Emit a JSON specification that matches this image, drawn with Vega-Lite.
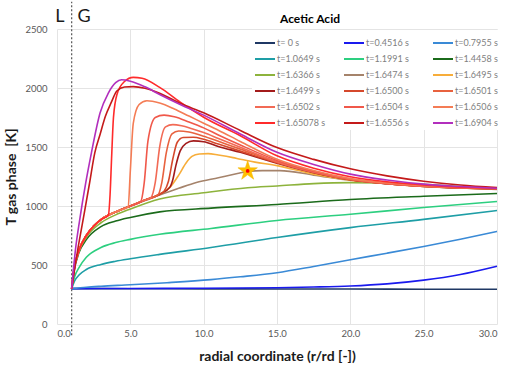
{
  "$schema": "https://vega.github.io/schema/vega-lite/v6.json",
  "width": 440,
  "height": 295,
  "autosize": {"type": "none"},
  "padding": {"left": 57, "top": 29, "right": 9, "bottom": 47},
  "title": {"text": "Acetic Acid", "fontSize": 12, "fontWeight": "bold", "font": "Lato", "color": "#000000", "dx": 33, "offset": -25},
  "config": {
    "view": {"stroke": null},
    "font": "Lato",
    "axis": {"gridColor": "#e4e4e4", "gridWidth": 1, "domain": false, "ticks": false, "labelFontSize": 9.5, "labelColor": "#595959", "titleFontSize": 14, "titleFontWeight": "bold", "titleColor": "#1a1a1a", "labelFont": "Lato", "titleFont": "Lato"}
  },
  "encoding": {
    "x": {"field": "r", "type": "quantitative", "scale": {"domain": [0, 30], "nice": false, "zero": false}, "axis": {"values": [0, 5, 10, 15, 20, 25, 30], "format": ".1f", "title": "radial coordinate (r/rd [-])", "labelPadding": 4, "titlePadding": 12}},
    "y": {"field": "T", "type": "quantitative", "scale": {"domain": [0, 2500], "nice": false}, "axis": {"values": [0, 500, 1000, 1500, 2000, 2500], "format": "d", "title": "T gas phase \u00a0[K]", "labelPadding": 10, "titlePadding": 6}}
  },
  "layer": [
    {
      "data": {"values": [{"r": 1, "T": -95, "T2": 2730}]},
      "mark": {"type": "rule", "color": "#555555", "strokeDash": [2, 2], "strokeWidth": 1.2},
      "encoding": {"y2": {"field": "T2"}}
    },
    {
      "data": {"values": [
        {"s":"t= 0 s","r":1,"T":300},{"s":"t= 0 s","r":5,"T":299},{"s":"t= 0 s","r":10,"T":298},{"s":"t= 0 s","r":15,"T":297},{"s":"t= 0 s","r":20,"T":296},{"s":"t= 0 s","r":25,"T":295},{"s":"t= 0 s","r":30,"T":295},
        {"s":"t=0.4516 s","r":1,"T":300},{"s":"t=0.4516 s","r":5,"T":301},{"s":"t=0.4516 s","r":10,"T":303},{"s":"t=0.4516 s","r":15,"T":307},{"s":"t=0.4516 s","r":17.5,"T":313},{"s":"t=0.4516 s","r":20,"T":322},{"s":"t=0.4516 s","r":22.5,"T":340},{"s":"t=0.4516 s","r":25,"T":372},{"s":"t=0.4516 s","r":27.5,"T":420},{"s":"t=0.4516 s","r":30,"T":490},
        {"s":"t=0.7955 s","r":1,"T":300},{"s":"t=0.7955 s","r":2,"T":312},{"s":"t=0.7955 s","r":3,"T":320},{"s":"t=0.7955 s","r":5,"T":332},{"s":"t=0.7955 s","r":7.5,"T":350},{"s":"t=0.7955 s","r":10.5,"T":376},{"s":"t=0.7955 s","r":12.5,"T":400},{"s":"t=0.7955 s","r":15,"T":435},{"s":"t=0.7955 s","r":17.5,"T":488},{"s":"t=0.7955 s","r":20,"T":545},{"s":"t=0.7955 s","r":22.5,"T":600},{"s":"t=0.7955 s","r":25,"T":657},{"s":"t=0.7955 s","r":27.5,"T":718},{"s":"t=0.7955 s","r":30,"T":785},
        {"s":"t=1.0649 s","r":1,"T":300},{"s":"t=1.0649 s","r":1.2,"T":365},{"s":"t=1.0649 s","r":1.5,"T":415},{"s":"t=1.0649 s","r":2,"T":462},{"s":"t=1.0649 s","r":3,"T":505},{"s":"t=1.0649 s","r":4,"T":532},{"s":"t=1.0649 s","r":5,"T":553},{"s":"t=1.0649 s","r":7,"T":590},{"s":"t=1.0649 s","r":10.5,"T":648},{"s":"t=1.0649 s","r":15,"T":733},{"s":"t=1.0649 s","r":20,"T":817},{"s":"t=1.0649 s","r":25,"T":887},{"s":"t=1.0649 s","r":30,"T":962},
        {"s":"t=1.1991 s","r":1,"T":300},{"s":"t=1.1991 s","r":1.2,"T":400},{"s":"t=1.1991 s","r":1.5,"T":478},{"s":"t=1.1991 s","r":2,"T":565},{"s":"t=1.1991 s","r":3,"T":648},{"s":"t=1.1991 s","r":4,"T":690},{"s":"t=1.1991 s","r":5,"T":717},{"s":"t=1.1991 s","r":7,"T":760},{"s":"t=1.1991 s","r":10.5,"T":810},{"s":"t=1.1991 s","r":15,"T":877},{"s":"t=1.1991 s","r":20,"T":930},{"s":"t=1.1991 s","r":25,"T":987},{"s":"t=1.1991 s","r":30,"T":1038},
        {"s":"t=1.4458 s","r":1,"T":300},{"s":"t=1.4458 s","r":1.15,"T":440},{"s":"t=1.4458 s","r":1.5,"T":605},{"s":"t=1.4458 s","r":2,"T":715},{"s":"t=1.4458 s","r":3,"T":825},{"s":"t=1.4458 s","r":4,"T":872},{"s":"t=1.4458 s","r":5,"T":903},{"s":"t=1.4458 s","r":7,"T":950},{"s":"t=1.4458 s","r":10.5,"T":982},{"s":"t=1.4458 s","r":15,"T":1013},{"s":"t=1.4458 s","r":20,"T":1055},{"s":"t=1.4458 s","r":25,"T":1082},{"s":"t=1.4458 s","r":30,"T":1106},
        {"s":"t=1.6366 s","r":1,"T":300},{"s":"t=1.6366 s","r":1.15,"T":450},{"s":"t=1.6366 s","r":1.5,"T":615},{"s":"t=1.6366 s","r":2,"T":735},{"s":"t=1.6366 s","r":3,"T":858},{"s":"t=1.6366 s","r":4,"T":925},{"s":"t=1.6366 s","r":5,"T":975},{"s":"t=1.6366 s","r":7,"T":1060},{"s":"t=1.6366 s","r":10,"T":1112},{"s":"t=1.6366 s","r":13,"T":1155},{"s":"t=1.6366 s","r":15,"T":1170},{"s":"t=1.6366 s","r":17.5,"T":1190},{"s":"t=1.6366 s","r":20,"T":1198},{"s":"t=1.6366 s","r":22.5,"T":1195},{"s":"t=1.6366 s","r":25,"T":1183},{"s":"t=1.6366 s","r":27.5,"T":1165},{"s":"t=1.6366 s","r":30,"T":1150},
        {"s":"t=1.6474 s","r":1,"T":300},{"s":"t=1.6474 s","r":1.15,"T":455},{"s":"t=1.6474 s","r":1.5,"T":625},{"s":"t=1.6474 s","r":2,"T":750},{"s":"t=1.6474 s","r":2.5,"T":830},{"s":"t=1.6474 s","r":3,"T":885},{"s":"t=1.6474 s","r":3.6,"T":928},{"s":"t=1.6474 s","r":4.2,"T":960},{"s":"t=1.6474 s","r":5,"T":1000},{"s":"t=1.6474 s","r":6,"T":1046},{"s":"t=1.6474 s","r":7,"T":1093},{"s":"t=1.6474 s","r":8.3,"T":1150},{"s":"t=1.6474 s","r":9.5,"T":1200},{"s":"t=1.6474 s","r":11,"T":1240},{"s":"t=1.6474 s","r":12.3,"T":1275},{"s":"t=1.6474 s","r":13,"T":1293},{"s":"t=1.6474 s","r":14,"T":1300},{"s":"t=1.6474 s","r":15.2,"T":1300},{"s":"t=1.6474 s","r":17.5,"T":1262},{"s":"t=1.6474 s","r":20,"T":1218},{"s":"t=1.6474 s","r":22.5,"T":1188},{"s":"t=1.6474 s","r":25,"T":1166},{"s":"t=1.6474 s","r":27.5,"T":1152},{"s":"t=1.6474 s","r":30,"T":1140},
        {"s":"t=1.6495 s","r":1,"T":300},{"s":"t=1.6495 s","r":1.15,"T":455},{"s":"t=1.6495 s","r":1.5,"T":625},{"s":"t=1.6495 s","r":2,"T":750},{"s":"t=1.6495 s","r":2.5,"T":830},{"s":"t=1.6495 s","r":3,"T":885},{"s":"t=1.6495 s","r":3.6,"T":928},{"s":"t=1.6495 s","r":4.2,"T":960},{"s":"t=1.6495 s","r":5,"T":1000},{"s":"t=1.6495 s","r":6,"T":1050},{"s":"t=1.6495 s","r":7,"T":1100},{"s":"t=1.6495 s","r":7.7,"T":1158},{"s":"t=1.6495 s","r":8.3,"T":1262},{"s":"t=1.6495 s","r":8.8,"T":1365},{"s":"t=1.6495 s","r":9.2,"T":1420},{"s":"t=1.6495 s","r":9.7,"T":1441},{"s":"t=1.6495 s","r":10.3,"T":1444},{"s":"t=1.6495 s","r":11,"T":1432},{"s":"t=1.6495 s","r":12,"T":1410},{"s":"t=1.6495 s","r":12.5,"T":1396},{"s":"t=1.6495 s","r":13.5,"T":1372},{"s":"t=1.6495 s","r":15,"T":1342},{"s":"t=1.6495 s","r":17.5,"T":1270},{"s":"t=1.6495 s","r":20,"T":1219},{"s":"t=1.6495 s","r":22.5,"T":1189},{"s":"t=1.6495 s","r":25,"T":1165},{"s":"t=1.6495 s","r":27.5,"T":1152},{"s":"t=1.6495 s","r":30,"T":1143},
        {"s":"t=1.6499 s","r":1,"T":300},{"s":"t=1.6499 s","r":1.15,"T":455},{"s":"t=1.6499 s","r":1.5,"T":625},{"s":"t=1.6499 s","r":2,"T":750},{"s":"t=1.6499 s","r":2.5,"T":830},{"s":"t=1.6499 s","r":3,"T":885},{"s":"t=1.6499 s","r":3.6,"T":928},{"s":"t=1.6499 s","r":4.2,"T":960},{"s":"t=1.6499 s","r":5,"T":1000},{"s":"t=1.6499 s","r":6,"T":1050},{"s":"t=1.6499 s","r":7,"T":1100},{"s":"t=1.6499 s","r":7.7,"T":1160},{"s":"t=1.6499 s","r":7.9,"T":1225},{"s":"t=1.6499 s","r":8.1,"T":1340},{"s":"t=1.6499 s","r":8.4,"T":1467},{"s":"t=1.6499 s","r":8.8,"T":1530},{"s":"t=1.6499 s","r":9.3,"T":1552},{"s":"t=1.6499 s","r":10,"T":1545},{"s":"t=1.6499 s","r":11,"T":1505},{"s":"t=1.6499 s","r":12.5,"T":1455},{"s":"t=1.6499 s","r":15,"T":1362},{"s":"t=1.6499 s","r":17.5,"T":1282},{"s":"t=1.6499 s","r":20,"T":1222},{"s":"t=1.6499 s","r":22.5,"T":1188},{"s":"t=1.6499 s","r":25,"T":1166},{"s":"t=1.6499 s","r":27.5,"T":1153},{"s":"t=1.6499 s","r":30,"T":1145},
        {"s":"t=1.6500 s","r":1,"T":300},{"s":"t=1.6500 s","r":1.15,"T":455},{"s":"t=1.6500 s","r":1.5,"T":625},{"s":"t=1.6500 s","r":2,"T":750},{"s":"t=1.6500 s","r":2.5,"T":830},{"s":"t=1.6500 s","r":3,"T":885},{"s":"t=1.6500 s","r":3.6,"T":928},{"s":"t=1.6500 s","r":4.2,"T":960},{"s":"t=1.6500 s","r":5,"T":1000},{"s":"t=1.6500 s","r":6,"T":1050},{"s":"t=1.6500 s","r":7,"T":1100},{"s":"t=1.6500 s","r":7.3,"T":1125},{"s":"t=1.6500 s","r":7.6,"T":1210},{"s":"t=1.6500 s","r":7.9,"T":1400},{"s":"t=1.6500 s","r":8.2,"T":1540},{"s":"t=1.6500 s","r":8.6,"T":1580},{"s":"t=1.6500 s","r":9.3,"T":1582},{"s":"t=1.6500 s","r":10,"T":1565},{"s":"t=1.6500 s","r":11,"T":1525},{"s":"t=1.6500 s","r":12.5,"T":1465},{"s":"t=1.6500 s","r":15,"T":1366},{"s":"t=1.6500 s","r":17.5,"T":1284},{"s":"t=1.6500 s","r":20,"T":1223},{"s":"t=1.6500 s","r":22.5,"T":1189},{"s":"t=1.6500 s","r":25,"T":1167},{"s":"t=1.6500 s","r":27.5,"T":1154},{"s":"t=1.6500 s","r":30,"T":1146},
        {"s":"t=1.6501 s","r":1,"T":300},{"s":"t=1.6501 s","r":1.15,"T":455},{"s":"t=1.6501 s","r":1.5,"T":625},{"s":"t=1.6501 s","r":2,"T":750},{"s":"t=1.6501 s","r":2.5,"T":830},{"s":"t=1.6501 s","r":3,"T":885},{"s":"t=1.6501 s","r":3.6,"T":928},{"s":"t=1.6501 s","r":4.2,"T":960},{"s":"t=1.6501 s","r":5,"T":1000},{"s":"t=1.6501 s","r":6,"T":1050},{"s":"t=1.6501 s","r":6.9,"T":1097},{"s":"t=1.6501 s","r":7.15,"T":1200},{"s":"t=1.6501 s","r":7.45,"T":1450},{"s":"t=1.6501 s","r":7.84,"T":1612},{"s":"t=1.6501 s","r":8.3,"T":1636},{"s":"t=1.6501 s","r":9,"T":1627},{"s":"t=1.6501 s","r":10,"T":1592},{"s":"t=1.6501 s","r":11,"T":1548},{"s":"t=1.6501 s","r":12.5,"T":1482},{"s":"t=1.6501 s","r":15,"T":1371},{"s":"t=1.6501 s","r":17.5,"T":1286},{"s":"t=1.6501 s","r":20,"T":1224},{"s":"t=1.6501 s","r":22.5,"T":1190},{"s":"t=1.6501 s","r":25,"T":1167},{"s":"t=1.6501 s","r":27.5,"T":1154},{"s":"t=1.6501 s","r":30,"T":1147},
        {"s":"t=1.6502 s","r":1,"T":300},{"s":"t=1.6502 s","r":1.15,"T":455},{"s":"t=1.6502 s","r":1.5,"T":625},{"s":"t=1.6502 s","r":2,"T":750},{"s":"t=1.6502 s","r":2.5,"T":830},{"s":"t=1.6502 s","r":3,"T":885},{"s":"t=1.6502 s","r":3.6,"T":928},{"s":"t=1.6502 s","r":4.2,"T":960},{"s":"t=1.6502 s","r":5,"T":1000},{"s":"t=1.6502 s","r":6,"T":1050},{"s":"t=1.6502 s","r":6.4,"T":1070},{"s":"t=1.6502 s","r":6.7,"T":1200},{"s":"t=1.6502 s","r":7,"T":1500},{"s":"t=1.6502 s","r":7.4,"T":1670},{"s":"t=1.6502 s","r":7.9,"T":1690},{"s":"t=1.6502 s","r":8.5,"T":1680},{"s":"t=1.6502 s","r":9.2,"T":1655},{"s":"t=1.6502 s","r":10,"T":1622},{"s":"t=1.6502 s","r":11,"T":1572},{"s":"t=1.6502 s","r":12.5,"T":1497},{"s":"t=1.6502 s","r":15,"T":1376},{"s":"t=1.6502 s","r":17.5,"T":1288},{"s":"t=1.6502 s","r":20,"T":1226},{"s":"t=1.6502 s","r":22.5,"T":1191},{"s":"t=1.6502 s","r":25,"T":1168},{"s":"t=1.6502 s","r":27.5,"T":1155},{"s":"t=1.6502 s","r":30,"T":1148},
        {"s":"t=1.6504 s","r":1,"T":300},{"s":"t=1.6504 s","r":1.15,"T":455},{"s":"t=1.6504 s","r":1.5,"T":625},{"s":"t=1.6504 s","r":2,"T":750},{"s":"t=1.6504 s","r":2.5,"T":830},{"s":"t=1.6504 s","r":3,"T":885},{"s":"t=1.6504 s","r":3.6,"T":928},{"s":"t=1.6504 s","r":4.2,"T":960},{"s":"t=1.6504 s","r":5,"T":1000},{"s":"t=1.6504 s","r":5.7,"T":1035},{"s":"t=1.6504 s","r":5.95,"T":1200},{"s":"t=1.6504 s","r":6.2,"T":1550},{"s":"t=1.6504 s","r":6.7,"T":1750},{"s":"t=1.6504 s","r":7.3,"T":1770},{"s":"t=1.6504 s","r":8,"T":1757},{"s":"t=1.6504 s","r":9,"T":1712},{"s":"t=1.6504 s","r":10,"T":1662},{"s":"t=1.6504 s","r":11,"T":1602},{"s":"t=1.6504 s","r":12.5,"T":1517},{"s":"t=1.6504 s","r":15,"T":1386},{"s":"t=1.6504 s","r":17.5,"T":1292},{"s":"t=1.6504 s","r":20,"T":1228},{"s":"t=1.6504 s","r":22.5,"T":1192},{"s":"t=1.6504 s","r":25,"T":1169},{"s":"t=1.6504 s","r":27.5,"T":1156},{"s":"t=1.6504 s","r":30,"T":1148},
        {"s":"t=1.6506 s","r":1,"T":300},{"s":"t=1.6506 s","r":1.15,"T":455},{"s":"t=1.6506 s","r":1.5,"T":625},{"s":"t=1.6506 s","r":2,"T":750},{"s":"t=1.6506 s","r":2.5,"T":830},{"s":"t=1.6506 s","r":3,"T":885},{"s":"t=1.6506 s","r":3.6,"T":928},{"s":"t=1.6506 s","r":4.2,"T":960},{"s":"t=1.6506 s","r":4.85,"T":993},{"s":"t=1.6506 s","r":5,"T":1300},{"s":"t=1.6506 s","r":5.2,"T":1700},{"s":"t=1.6506 s","r":5.6,"T":1860},{"s":"t=1.6506 s","r":6.13,"T":1892},{"s":"t=1.6506 s","r":7,"T":1872},{"s":"t=1.6506 s","r":8,"T":1822},{"s":"t=1.6506 s","r":9,"T":1762},{"s":"t=1.6506 s","r":10,"T":1702},{"s":"t=1.6506 s","r":11,"T":1642},{"s":"t=1.6506 s","r":12.5,"T":1547},{"s":"t=1.6506 s","r":15,"T":1396},{"s":"t=1.6506 s","r":17.5,"T":1300},{"s":"t=1.6506 s","r":20,"T":1232},{"s":"t=1.6506 s","r":22.5,"T":1195},{"s":"t=1.6506 s","r":25,"T":1171},{"s":"t=1.6506 s","r":27.5,"T":1157},{"s":"t=1.6506 s","r":30,"T":1150},
        {"s":"t=1.65078 s","r":1,"T":300},{"s":"t=1.65078 s","r":1.15,"T":455},{"s":"t=1.65078 s","r":1.5,"T":625},{"s":"t=1.65078 s","r":2,"T":750},{"s":"t=1.65078 s","r":2.5,"T":830},{"s":"t=1.65078 s","r":3,"T":885},{"s":"t=1.65078 s","r":3.5,"T":922},{"s":"t=1.65078 s","r":3.62,"T":1100},{"s":"t=1.65078 s","r":3.72,"T":1400},{"s":"t=1.65078 s","r":3.85,"T":1750},{"s":"t=1.65078 s","r":4.1,"T":1950},{"s":"t=1.65078 s","r":4.6,"T":2055},{"s":"t=1.65078 s","r":5.2,"T":2090},{"s":"t=1.65078 s","r":5.8,"T":2082},{"s":"t=1.65078 s","r":7,"T":2005},{"s":"t=1.65078 s","r":8.4,"T":1880},{"s":"t=1.65078 s","r":10,"T":1752},{"s":"t=1.65078 s","r":12.5,"T":1595},{"s":"t=1.65078 s","r":15,"T":1425},{"s":"t=1.65078 s","r":17.5,"T":1320},{"s":"t=1.65078 s","r":20,"T":1248},{"s":"t=1.65078 s","r":22.5,"T":1205},{"s":"t=1.65078 s","r":25,"T":1178},{"s":"t=1.65078 s","r":27.5,"T":1160},{"s":"t=1.65078 s","r":30,"T":1150},
        {"s":"t=1.6556 s","r":1,"T":300},{"s":"t=1.6556 s","r":1.4,"T":620},{"s":"t=1.6556 s","r":1.78,"T":885},{"s":"t=1.6556 s","r":2.2,"T":1180},{"s":"t=1.6556 s","r":2.58,"T":1453},{"s":"t=1.6556 s","r":2.94,"T":1608},{"s":"t=1.6556 s","r":3.3,"T":1760},{"s":"t=1.6556 s","r":3.7,"T":1878},{"s":"t=1.6556 s","r":4.08,"T":1975},{"s":"t=1.6556 s","r":4.6,"T":2008},{"s":"t=1.6556 s","r":5.2,"T":2012},{"s":"t=1.6556 s","r":6,"T":1998},{"s":"t=1.6556 s","r":7,"T":1955},{"s":"t=1.6556 s","r":8.4,"T":1870},{"s":"t=1.6556 s","r":10,"T":1790},{"s":"t=1.6556 s","r":12.5,"T":1640},{"s":"t=1.6556 s","r":15,"T":1495},{"s":"t=1.6556 s","r":17.5,"T":1395},{"s":"t=1.6556 s","r":20,"T":1315},{"s":"t=1.6556 s","r":22.5,"T":1255},{"s":"t=1.6556 s","r":25,"T":1210},{"s":"t=1.6556 s","r":27.5,"T":1178},{"s":"t=1.6556 s","r":30,"T":1157},
        {"s":"t=1.6904 s","r":1,"T":300},{"s":"t=1.6904 s","r":1.25,"T":620},{"s":"t=1.6904 s","r":1.55,"T":885},{"s":"t=1.6904 s","r":1.95,"T":1190},{"s":"t=1.6904 s","r":2.35,"T":1453},{"s":"t=1.6904 s","r":2.94,"T":1790},{"s":"t=1.6904 s","r":3.49,"T":1955},{"s":"t=1.6904 s","r":4,"T":2045},{"s":"t=1.6904 s","r":4.4,"T":2070},{"s":"t=1.6904 s","r":5,"T":2058},{"s":"t=1.6904 s","r":6,"T":2010},{"s":"t=1.6904 s","r":7,"T":1945},{"s":"t=1.6904 s","r":8.4,"T":1860},{"s":"t=1.6904 s","r":10,"T":1770},{"s":"t=1.6904 s","r":12.5,"T":1610},{"s":"t=1.6904 s","r":15,"T":1455},{"s":"t=1.6904 s","r":17.5,"T":1352},{"s":"t=1.6904 s","r":20,"T":1270},{"s":"t=1.6904 s","r":22.5,"T":1220},{"s":"t=1.6904 s","r":25,"T":1185},{"s":"t=1.6904 s","r":27.5,"T":1165},{"s":"t=1.6904 s","r":30,"T":1150}
      ]},
      "mark": {"type": "line", "interpolate": "monotone", "strokeWidth": 1.6},
      "encoding": {
        "color": {
          "field": "s", "type": "nominal",
          "scale": {
            "domain": ["t= 0 s","t=1.0649 s","t=1.6366 s","t=1.6499 s","t=1.6502 s","t=1.65078 s","t=0.4516 s","t=1.1991 s","t=1.6474 s","t=1.6500 s","t=1.6504 s","t=1.6556 s","t=0.7955 s","t=1.4458 s","t=1.6495 s","t=1.6501 s","t=1.6506 s","t=1.6904 s"],
            "range": ["#1f3864","#1e9ea6","#8db33c","#a31b1b","#f26a55","#ff2b2b","#1a1aee","#2dcf80","#a5836b","#d5482c","#f0584a","#c41a1a","#3a8ad6","#1b6b1b","#f7ad3a","#e8623f","#f47c55","#b22fbd"]
          },
          "legend": {"orient": "none", "legendX": 195, "legendY": 1, "columns": 3, "title": null, "symbolType": "stroke", "symbolSize": 400, "symbolStrokeWidth": 2, "labelFontSize": 9, "labelColor": "#808080", "labelFont": "Lato", "columnPadding": 14, "rowPadding": -4, "gridAlign": "all", "labelOffset": 1, "fillColor": "#ffffff", "padding": 2}
        }
      }
    },
    {
      "data": {"values": [{"r": 13, "T": 1297}]},
      "mark": {"type": "point", "shape": "M0,-1L0.2245,-0.309L0.951,-0.309L0.363,0.118L0.588,0.809L0,0.382L-0.588,0.809L-0.363,0.118L-0.951,-0.309L-0.2245,-0.309Z", "filled": true, "fill": "#ffc000", "stroke": "#f5b400", "strokeWidth": 0.5, "size": 420, "opacity": 1}
    },
    {
      "data": {"values": [{"r": 13, "T": 1297}]},
      "mark": {"type": "circle", "color": "#ff0000", "size": 14, "opacity": 1}
    },
    {
      "data": {"values": [{"lab": "L", "r": 0.2, "T": 2600}, {"lab": "G", "r": 1.85, "T": 2600}]},
      "mark": {"type": "text", "fontSize": 18, "font": "Lato", "color": "#1a1a1a", "baseline": "middle", "align": "center"},
      "encoding": {"text": {"field": "lab"}}
    }
  ]
}
